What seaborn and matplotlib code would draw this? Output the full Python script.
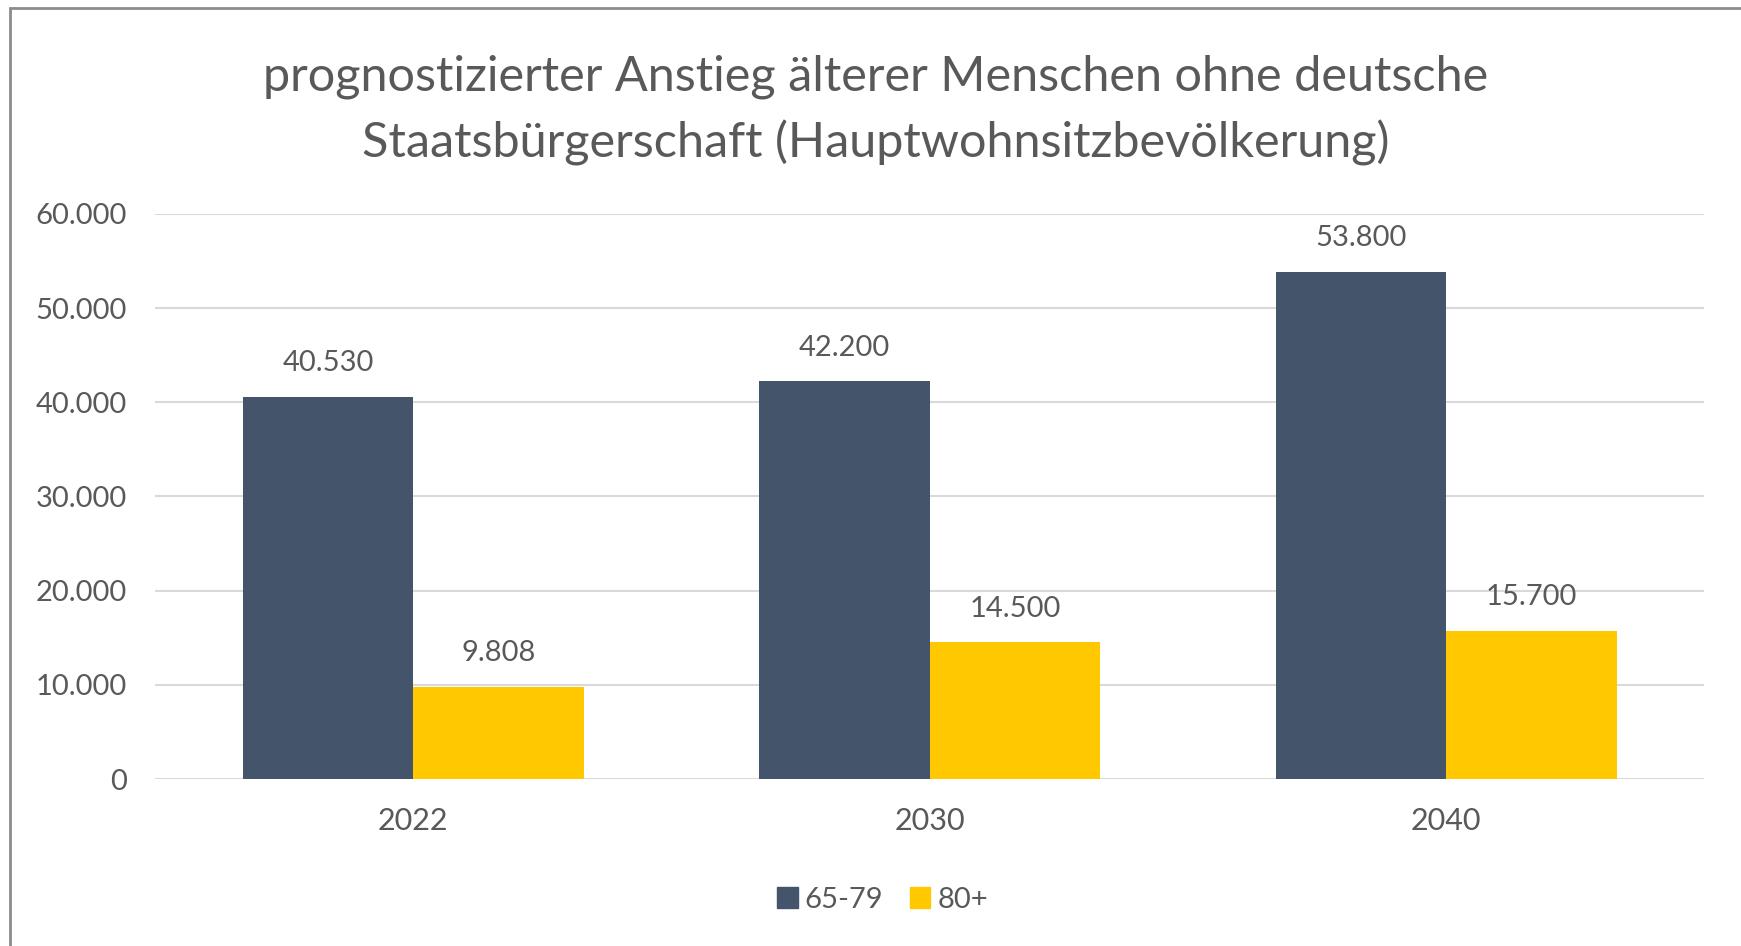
import matplotlib
matplotlib.use("Agg")
import matplotlib.pyplot as plt
import matplotlib.patches as mpatches
import seaborn as sns
import pandas as pd

# chart data
years = ["2022", "2030", "2040"]
age_groups = ["65-79", "80+"]
values_65_79 = [40530, 42200, 53800]
values_80_plus = [9808, 14500, 15700]
y_ticks = [0, 10000, 20000, 30000, 40000, 50000, 60000]

title = ("prognostizierter Anstieg älterer Menschen ohne deutsche\n"
         "Staatsbürgerschaft (Hauptwohnsitzbevölkerung)")

colors = {"65-79": "#44546A", "80+": "#FFC800"}
text_color = "#595959"


def de_fmt(v):
    return f"{int(round(v)):,}".replace(",", ".")


df = pd.DataFrame({
    "Jahr": years * 2,
    "Gruppe": [age_groups[0]] * len(years) + [age_groups[1]] * len(years),
    "Wert": values_65_79 + values_80_plus,
})

sns.set_style("white")
plt.rcParams["font.family"] = ["Lato", "DejaVu Sans"]

fig = plt.figure(figsize=(17.41, 9.46), dpi=100)
ax = fig.add_axes([0.089, 0.1765, 0.890, 0.5975])

sns.barplot(data=df, x="Jahr", y="Wert", hue="Gruppe", order=years,
            hue_order=age_groups, palette=colors, width=0.66,
            saturation=1, errorbar=None, ax=ax, legend=False,
            linewidth=0, zorder=3)

for container in ax.containers:
    ax.bar_label(container, labels=[de_fmt(v) for v in container.datavalues],
                 padding=15, fontsize=21, color=text_color)

ax.set_xlim(-0.5, 2.5)
ax.set_ylim(0, 60000)
ax.set_yticks(y_ticks)
ax.set_yticklabels([de_fmt(v) for v in y_ticks])
ax.yaxis.grid(True, color="#D9D9D9", linewidth=1.5, zorder=0)
ax.set_axisbelow(True)
ax.tick_params(axis="both", length=0, labelsize=21, labelcolor=text_color)
ax.tick_params(axis="y", pad=20)
ax.tick_params(axis="x", labelsize=22, pad=20)
ax.set_xlabel("")
ax.set_ylabel("")
sns.despine(ax=ax, left=True, top=True, right=True, bottom=True)

fig.text(0.503, 0.883, title, ha="center", va="center", fontsize=35,
         color=text_color, linespacing=1.55)

handles = [mpatches.Patch(color=colors[g], label=g) for g in age_groups]
fig.legend(handles=handles, loc="center", bbox_to_anchor=(0.507, 0.049),
           ncol=2, frameon=False, fontsize=21, labelcolor=text_color,
           handlelength=0.7, handleheight=0.7, handletextpad=0.25,
           columnspacing=0.9)

# clipped chart frame (only the left and top edges are visible)
fig.patches.append(mpatches.Rectangle((10 / 1741, -0.1), 1.2, 0.1 + 1 - 8 / 946,
                                      transform=fig.transFigure, fill=False,
                                      edgecolor="#8C8C8C", linewidth=2))

fig.savefig("out.png", dpi=100)
